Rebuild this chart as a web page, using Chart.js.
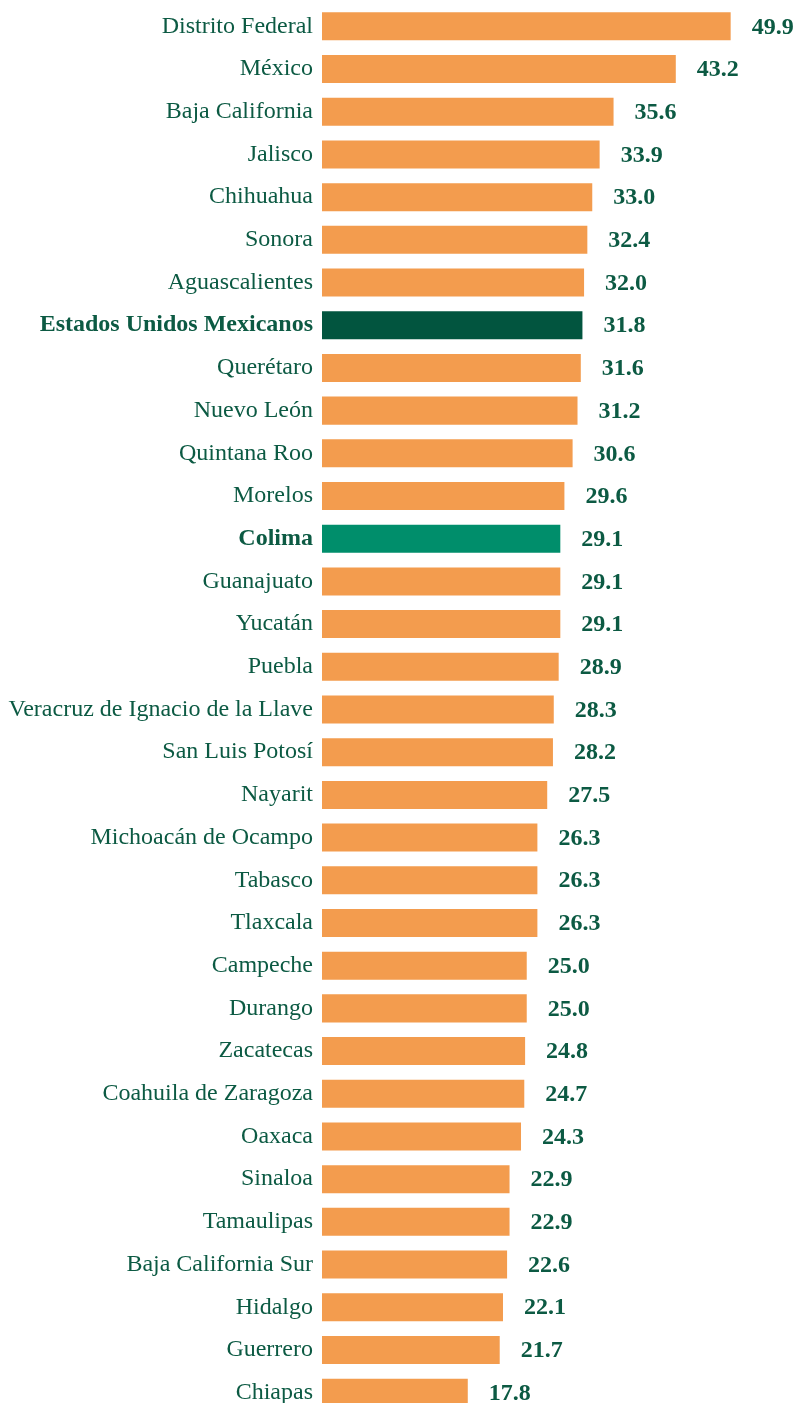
<!DOCTYPE html>
<html lang="es">
<head>
<meta charset="utf-8">
<title>Entidades</title>
<script src="https://cdn.jsdelivr.net/npm/chart.js@4"></script>
<style>
  html, body { margin: 0; padding: 0; background: #fff; overflow: hidden; }
  .wrap { position: relative; width: 797px; height: 1414px; }
</style>
</head>
<body>
<div class="wrap"><canvas id="myChart"></canvas></div>
<script>
"use strict"

const states = ["Distrito Federal", "México", "Baja California", "Jalisco", "Chihuahua",
  "Sonora", "Aguascalientes", "Estados Unidos Mexicanos", "Querétaro", "Nuevo León",
  "Quintana Roo", "Morelos", "Colima", "Guanajuato", "Yucatán", "Puebla",
  "Veracruz de Ignacio de la Llave", "San Luis Potosí", "Nayarit", "Michoacán de Ocampo",
  "Tabasco", "Tlaxcala", "Campeche", "Durango", "Zacatecas", "Coahuila de Zaragoza",
  "Oaxaca", "Sinaloa", "Tamaulipas", "Baja California Sur", "Hidalgo", "Guerrero", "Chiapas"];

const values = [49.9, 43.2, 35.6, 33.9, 33.0, 32.4, 32.0, 31.8, 31.6, 31.2, 30.6, 29.6,
  29.1, 29.1, 29.1, 28.9, 28.3, 28.2, 27.5, 26.3, 26.3, 26.3, 25.0, 25.0, 24.8, 24.7,
  24.3, 22.9, 22.9, 22.6, 22.1, 21.7, 17.8];

const highlight = ["Estados Unidos Mexicanos", "Colima"];

const ctx = document.getElementById('myChart');
const textColor = "#0c5a43";
const serif = "'Liberation Serif', 'Times New Roman', serif";

const barColors = states.map(s => {
  if (s === "Estados Unidos Mexicanos") return "#02553f";
  if (s === "Colima") return "#008e6b";
  return "#f39c4e";
});

// draws the value next to each bar
const valueLabels = {
  id: 'valueLabels',
  afterDatasetsDraw(chart) {
    const c = chart.ctx;
    const meta = chart.getDatasetMeta(0);
    c.save();
    c.font = "bold 24px " + serif;
    c.fillStyle = textColor;
    c.textAlign = "left";
    c.textBaseline = "middle";
    meta.data.forEach((bar, i) => {
      c.fillText(values[i].toFixed(1), bar.x + 21, bar.y + 1);
    });
    c.restore();
  }
};

new Chart(ctx, {
  type: 'bar',
  data: {
    labels: states,
    datasets: [{
      data: values,
      backgroundColor: barColors,
      borderWidth: 0,
      barPercentage: 0.656,
      categoryPercentage: 1
    }]
  },
  plugins: [valueLabels],
  options: {
    indexAxis: 'y',
    responsive: true,
    maintainAspectRatio: false,
    animation: false,
    layout: { padding: { top: 5, right: 0, bottom: 0, left: 0 } },
    plugins: {
      legend: { display: false },
      tooltip: { enabled: false }
    },
    scales: {
      x: {
        display: false,
        min: 0,
        max: 58
      },
      y: {
        afterFit: scale => {
          scale.width = 322
          scale.paddingTop = 0
          scale.paddingBottom = 0
        },
        grid: { display: false, drawTicks: false },
        border: { display: false },
        ticks: {
          padding: 9,
          color: textColor,
          autoSkip: false,
          font: c => ({
            family: serif,
            size: 24,
            weight: highlight.includes(states[c.index]) ? 'bold' : 'normal'
          })
        }
      }
    }
  }
});
</script>
</body>
</html>
